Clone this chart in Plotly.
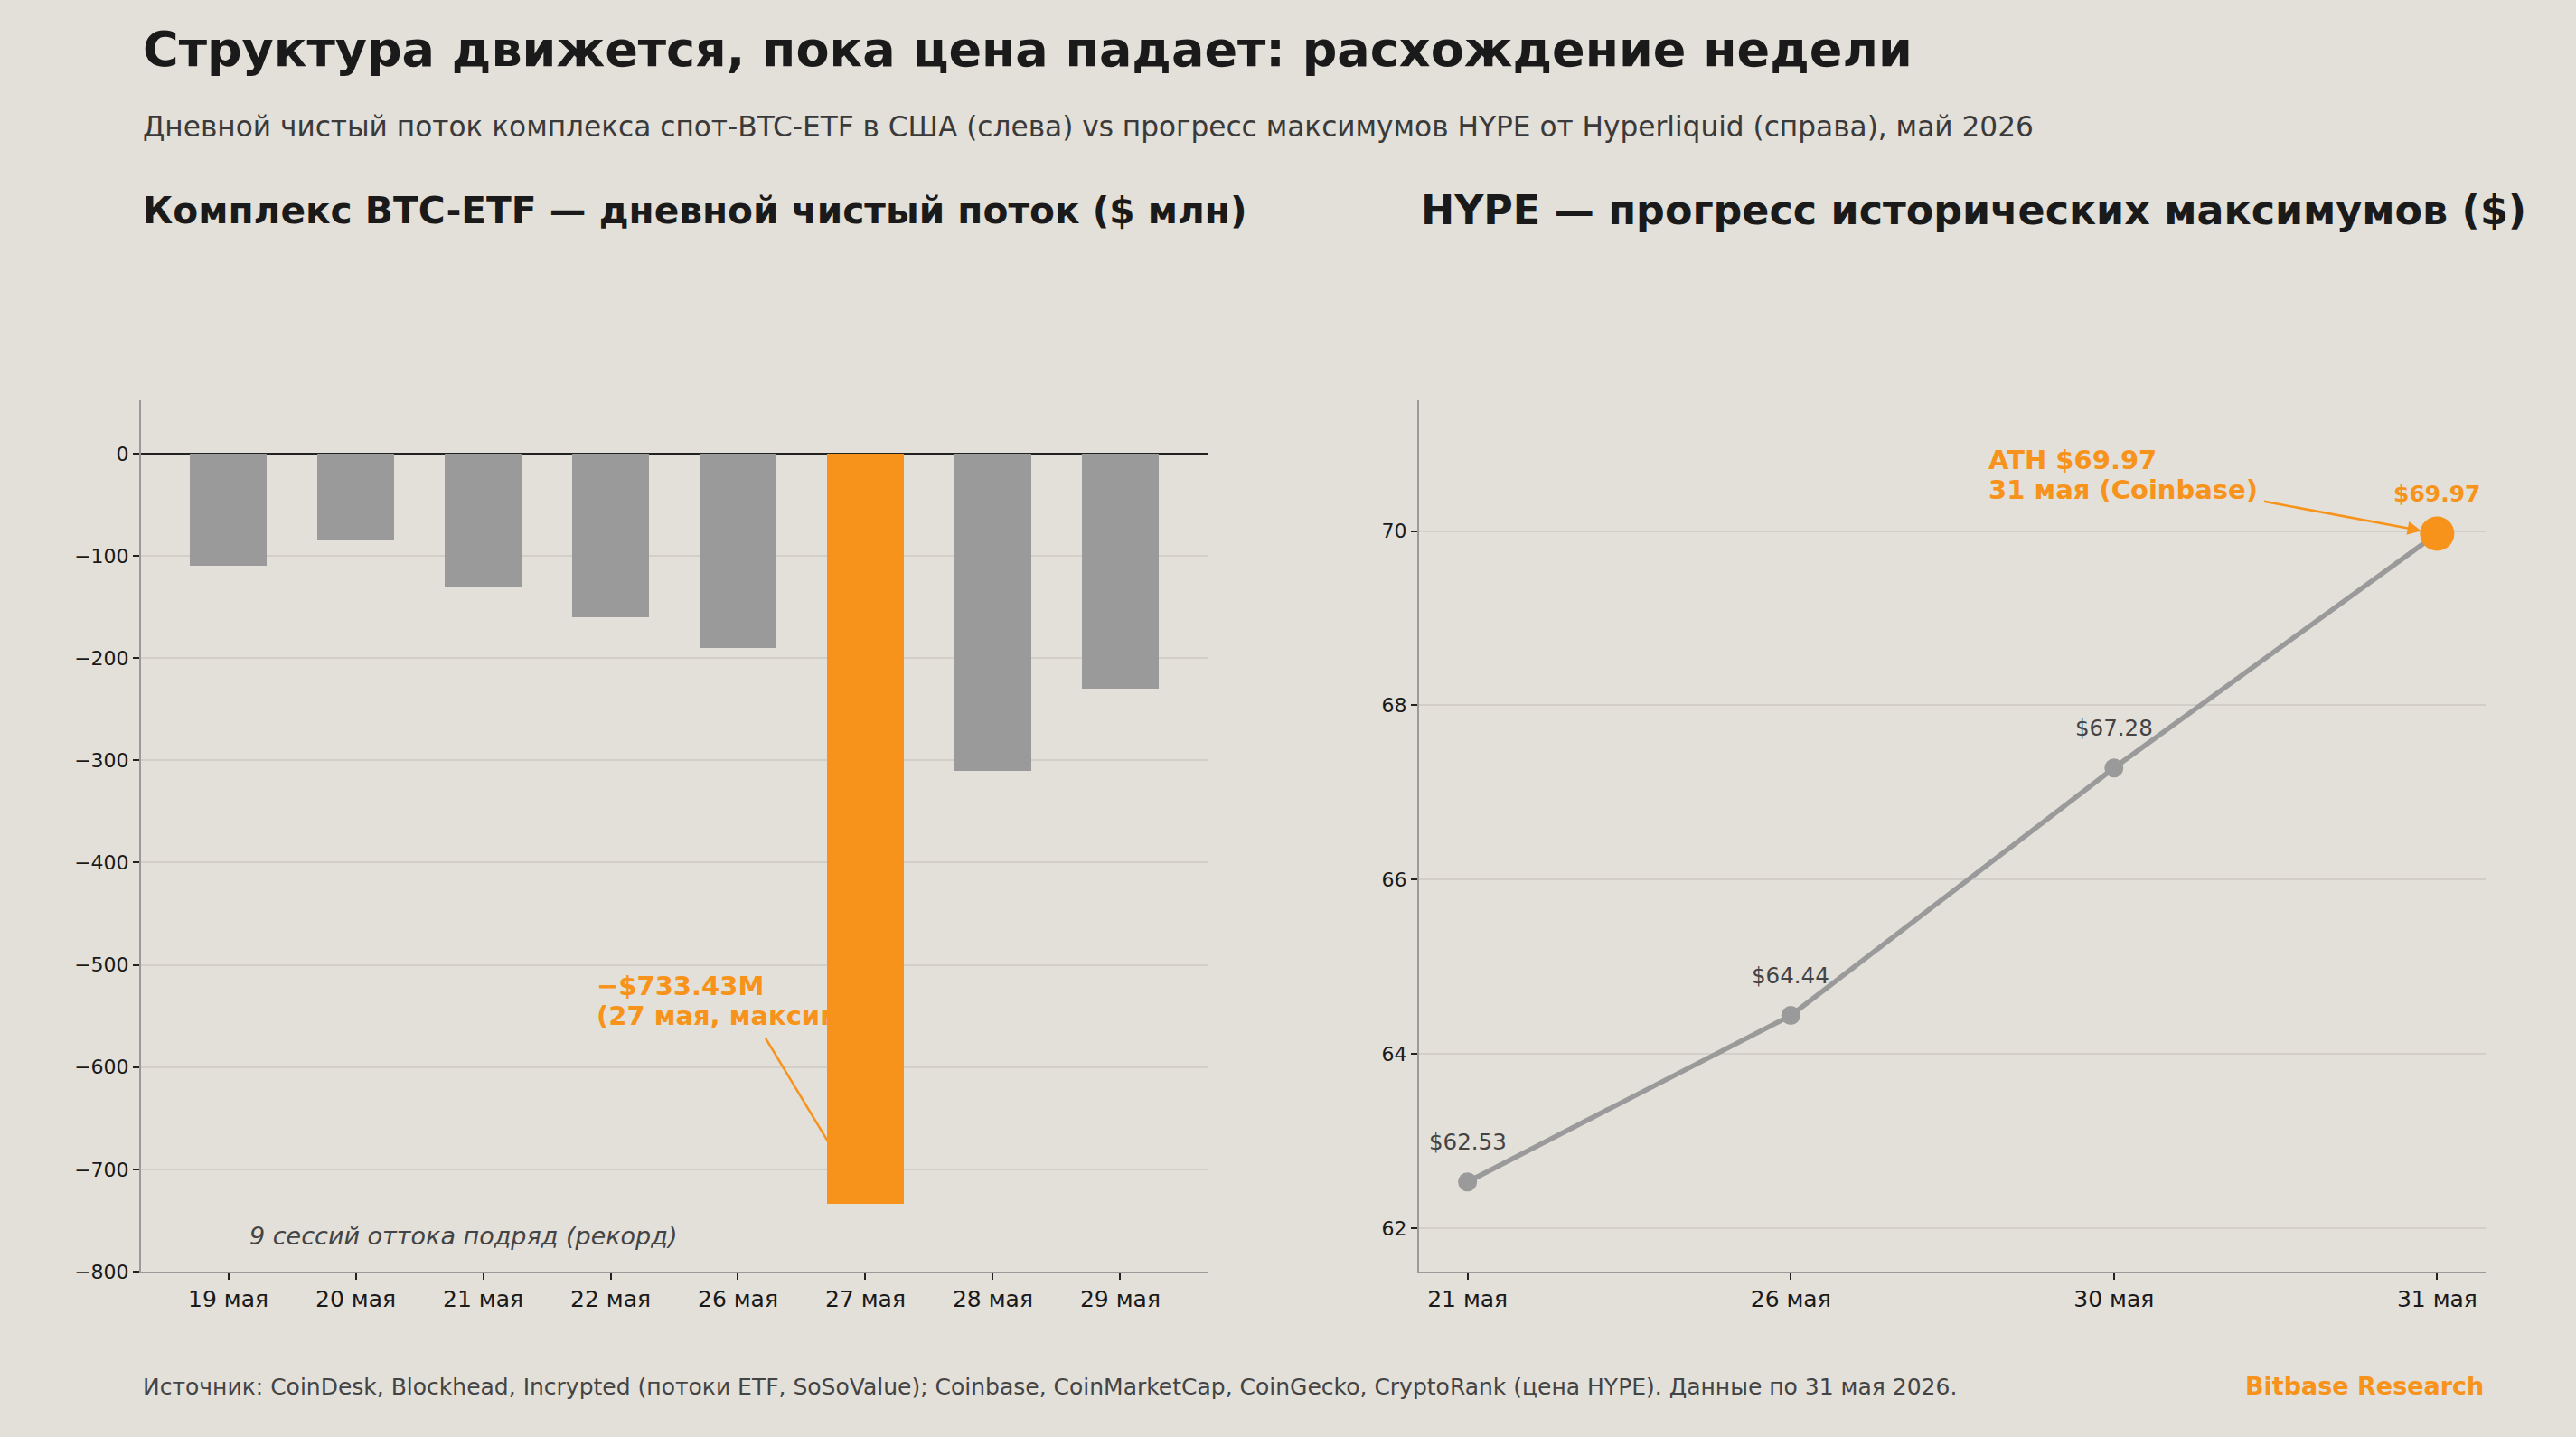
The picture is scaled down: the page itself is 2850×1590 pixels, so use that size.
import plotly.graph_objects as go

# ---------------- data ----------------
etf_dates = ["19 мая", "20 мая", "21 мая", "22 мая", "26 мая", "27 мая", "28 мая", "29 мая"]
etf_flows = [-110, -85, -130, -160, -190, -733.43, -310, -230]
etf_highlight = "27 мая"

hype_dates = ["21 мая", "26 мая", "30 мая", "31 мая"]
hype_prices = [62.53, 64.44, 67.28, 69.97]

etf_yticks = list(range(-800, 1, 100))
hype_yticks = [62, 64, 66, 68, 70]

# ---------------- style ----------------
BG = "#E3DFD9"
GRID = "#D3CEC7"
ORANGE = "#F7931A"
GRAY = "#9A9A9A"
DARK = "#1A1A1A"
MID = "#444444"
FONT = "DejaVu Sans"
W, H = 2850, 1590

def px_x(p):
    return p / W

def px_y(p):
    return 1 - p / H

ydom = [px_y(1407), px_y(443)]
xdom1 = [px_x(156), px_x(1336)]
xdom2 = [px_x(1570), px_x(2750)]

xr1 = [-0.685, len(etf_dates) - 1 + 0.685]
yr1 = [-800, 52]
xr2 = [-0.15, len(hype_dates) - 1 + 0.15]
yr2 = [61.5, 71.5]

fig = go.Figure()

# --- left panel: callout text + leader line (base axes, drawn beneath the bars) ---
hi = etf_dates.index(etf_highlight)
hi_val = etf_flows[hi]
callout_lines = [f"−${abs(hi_val):.2f}M", f"({etf_highlight}, максимум)"]
callout_y = [-523, -552.5]
for txt, yy in zip(callout_lines, callout_y):
    fig.add_trace(go.Scatter(
        x=[hi - 2.11], y=[yy], mode="text",
        text=[f"<b>{txt}</b>"],
        textposition="middle right",
        textfont=dict(family=FONT, size=29, color=ORANGE),
        hoverinfo="skip", showlegend=False, xaxis="x", yaxis="y",
    ))
fig.add_trace(go.Scatter(
    x=[hi - 0.784, hi], y=[-571.7, hi_val], mode="lines",
    line=dict(color=ORANGE, width=2.5),
    hoverinfo="skip", showlegend=False, xaxis="x", yaxis="y",
))

# --- left panel: bars on overlay axes (drawn above the callout) ---
bar_colors = [ORANGE if d == etf_highlight else GRAY for d in etf_dates]
fig.add_trace(go.Bar(
    x=list(range(len(etf_dates))), y=etf_flows, width=0.6,
    marker=dict(color=bar_colors, line=dict(width=0), opacity=1),
    showlegend=False, xaxis="x3", yaxis="y3",
))

# --- right panel: HYPE line ---
n = len(hype_prices)
fig.add_trace(go.Scatter(
    x=list(range(n)), y=hype_prices, mode="lines+markers",
    line=dict(color=GRAY, width=5.5),
    marker=dict(size=21, color=GRAY, opacity=1, line=dict(width=0)),
    showlegend=False, xaxis="x2", yaxis="y2",
))
fig.add_trace(go.Scatter(
    x=[n - 1], y=[hype_prices[-1]], mode="markers",
    marker=dict(size=38, color=ORANGE, opacity=1, line=dict(width=0)),
    showlegend=False, xaxis="x2", yaxis="y2",
))

annotations = []
for i, v in enumerate(hype_prices):
    last = i == n - 1
    annotations.append(dict(
        x=i, y=v, xref="x2", yref="y2", yshift=44, showarrow=False,
        text=f"<b>${v:.2f}</b>" if last else f"${v:.2f}",
        font=dict(family=FONT, size=25 if last else 24.5, color=ORANGE if last else MID),
        xanchor="center", yanchor="middle",
    ))
# ATH callout (two lines, matplotlib-like line spacing)
ath_lines = [f"ATH ${hype_prices[-1]:.2f}", f"{hype_dates[-1]} (Coinbase)"]
ath_y = [70.815, 70.473]
for txt, yy in zip(ath_lines, ath_y):
    annotations.append(dict(
        x=1.606, y=yy, xref="x2", yref="y2", showarrow=False,
        text=f"<b>{txt}</b>",
        font=dict(family=FONT, size=29, color=ORANGE),
        xanchor="left", yanchor="middle", align="left",
    ))
annotations.append(dict(
    x=n - 1, y=hype_prices[-1], xref="x2", yref="y2",
    ax=2.46, ay=70.343, axref="x2", ayref="y2",
    text="", showarrow=True, arrowhead=2, arrowsize=1.2, arrowwidth=2.5,
    arrowcolor=ORANGE, standoff=18,
))
annotations.append(dict(
    x=px_x(274), y=px_y(1367), xref="paper", yref="paper", showarrow=False,
    text="<i>9 сессий оттока подряд (рекорд)</i>",
    font=dict(family=FONT, size=27, color=MID), xanchor="left", yanchor="middle",
))
annotations += [
    dict(x=px_x(156), y=px_y(55), xref="paper", yref="paper", showarrow=False,
         text="<b>Структура движется, пока цена падает: расхождение недели</b>",
         font=dict(family=FONT, size=54, color=DARK), xanchor="left", yanchor="middle"),
    dict(x=px_x(156), y=px_y(140), xref="paper", yref="paper", showarrow=False,
         text="Дневной чистый поток комплекса спот-BTC-ETF в США (слева) vs прогресс максимумов HYPE от Hyperliquid (справа), май 2026",
         font=dict(family=FONT, size=31.2, color="#3A3A3A"), xanchor="left", yanchor="middle"),
    dict(x=px_x(156), y=px_y(233), xref="paper", yref="paper", showarrow=False,
         text="<b>Комплекс BTC-ETF — дневной чистый поток ($ млн)</b>",
         font=dict(family=FONT, size=40.7, color=DARK), xanchor="left", yanchor="middle"),
    dict(x=px_x(1570), y=px_y(233), xref="paper", yref="paper", showarrow=False,
         text="<b>HYPE — прогресс исторических максимумов ($)</b>",
         font=dict(family=FONT, size=44.4, color=DARK), xanchor="left", yanchor="middle"),
    dict(x=px_x(156), y=px_y(1534), xref="paper", yref="paper", showarrow=False,
         text="Источник: CoinDesk, Blockhead, Incrypted (потоки ETF, SoSoValue); Coinbase, CoinMarketCap, CoinGecko, CryptoRank (цена HYPE). Данные по 31 мая 2026.",
         font=dict(family=FONT, size=25, color=MID), xanchor="left", yanchor="middle"),
    dict(x=px_x(2750), y=px_y(1533), xref="paper", yref="paper", showarrow=False,
         text="<b>Bitbase Research</b>",
         font=dict(family=FONT, size=27, color=ORANGE), xanchor="right", yanchor="middle"),
]

common_x = dict(showgrid=False, zeroline=False, showline=True, linecolor="#9A9A9A",
                linewidth=2, ticks="outside", ticklen=7, tickwidth=1.6, tickcolor="#222",
                tickfont=dict(family=FONT, size=25, color=DARK), automargin=False)
common_y = dict(showgrid=True, gridcolor=GRID, gridwidth=1.6, showline=True,
                linecolor="#9A9A9A", linewidth=2, ticks="outside", ticklen=7,
                tickwidth=1.6, tickcolor="#222",
                tickfont=dict(family=FONT, size=22, color=DARK), automargin=False)

fig.update_layout(
    width=W, height=H, margin=dict(l=0, r=0, t=0, b=0, pad=0, autoexpand=False),
    paper_bgcolor=BG, plot_bgcolor=BG, font=dict(family=FONT),
    showlegend=False, bargap=0,
    xaxis=dict(domain=xdom1, anchor="y", range=xr1,
               tickmode="array", tickvals=list(range(len(etf_dates))), ticktext=etf_dates,
               **common_x),
    yaxis=dict(domain=ydom, anchor="x", range=yr1, tickmode="array", tickvals=etf_yticks,
               zeroline=True, zerolinecolor="#222", zerolinewidth=2.2, **common_y),
    xaxis3=dict(overlaying="x", anchor="y3", range=xr1, visible=False, automargin=False),
    yaxis3=dict(overlaying="y", anchor="x3", range=yr1, visible=False, automargin=False),
    xaxis2=dict(domain=xdom2, anchor="y2", range=xr2,
                tickmode="array", tickvals=list(range(n)), ticktext=hype_dates,
                **common_x),
    yaxis2=dict(domain=ydom, anchor="x2", range=yr2, tickmode="array", tickvals=hype_yticks,
                zeroline=False, **common_y),
    annotations=annotations,
)

fig.write_html("out.html")
